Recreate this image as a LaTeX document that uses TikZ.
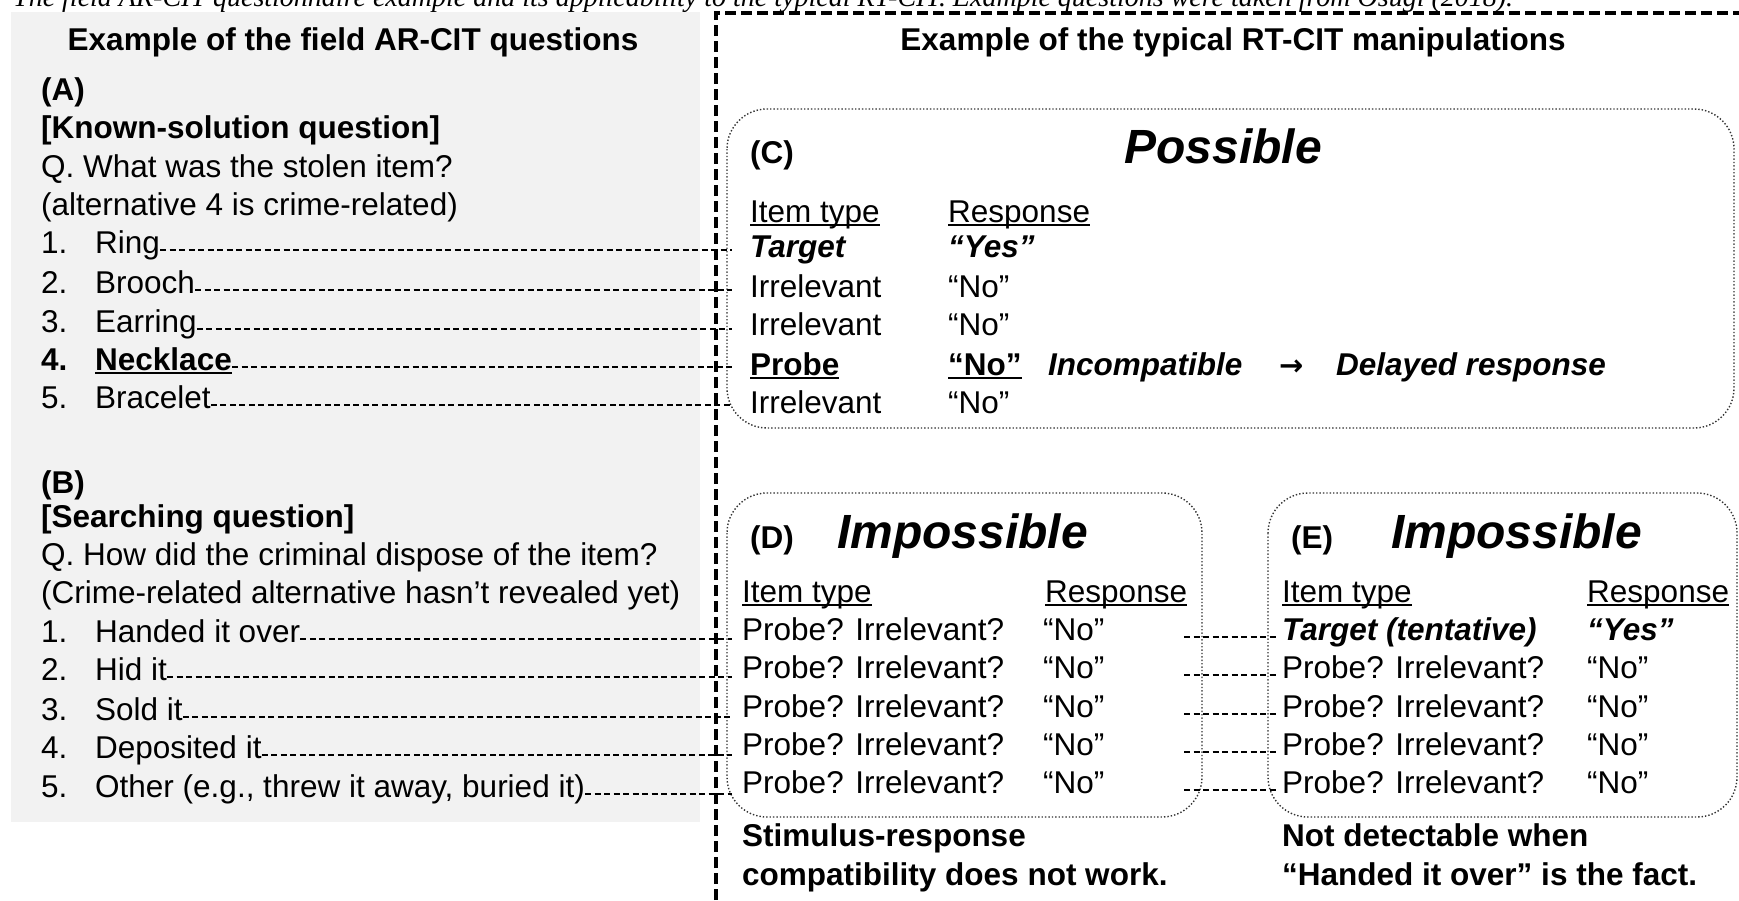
\documentclass[tikz,border=0pt]{standalone}
\usepackage{fontspec}
\setmainfont{Liberation Sans}
\newfontfamily\capfont{Liberation Serif}
\newfontfamily\symfont{DejaVu Sans}
\usetikzlibrary{positioning}

\definecolor{panelgray}{HTML}{F2F2F2}

% underline that sits just under the baseline
\newcommand{\uln}[1]{\setbox0=\hbox{#1}\rlap{\rule[-4pt]{\wd0}{1.8pt}}\box0}

\tikzset{
  txt/.style={anchor=base west, inner sep=0pt, font=\fontsize{31.5}{36}\selectfont},
  hdr/.style={txt, font=\fontsize{31.5}{36}\selectfont\bfseries},
  bit/.style={txt, font=\fontsize{31.5}{36}\selectfont\bfseries\itshape},
  big/.style={anchor=base west, inner sep=0pt, font=\fontsize{48}{52}\selectfont\bfseries\itshape},
  link/.style={dash pattern=on 6pt off 3.5pt, line width=2pt},
  frame/.style={dash pattern=on 11pt off 5pt, line width=4pt},
  casebox/.style={draw=black!80, dotted, line width=1.4pt, rounded corners=40pt},
}

\begin{document}
\begin{tikzpicture}[x=1pt, y=-1pt]
    \useasboundingbox (0,0) rectangle (1739,900);

    % left panel: field questions
    \fill[panelgray] (11,12) rectangle (700,822);
    \node[anchor=base west, inner sep=0pt, font=\capfont\itshape\fontsize{28}{30}\selectfont] (cap) at (13,6)
        {The field AR-CIT questionnaire example and its applicability to the typical RT-CIT. Example questions were taken from Osugi (2018).};

    \node[hdr, anchor=base] (lhead) at (353,50) {Example of the field AR-CIT questions};
    \node[hdr] (labA) at (41,100) {(A)};
    \node[hdr] (qA) at (41,138) {[Known-solution question]};
    \node[txt] (qA1) at (41,177) {Q. What was the stolen item?};
    \node[txt] (qA2) at (41,215) {(alternative 4 is crime-related)};
    \foreach \i/\t/\y in {1/Ring/253, 2/Brooch/293, 3/Earring/332, 5/Bracelet/408} {
        \node[txt] (a\i) at (41,\y) {\makebox[54pt][l]{\i.}\t};
    }
    \node[hdr] (a4) at (41,370) {\makebox[54pt][l]{4.}\uln{Necklace}};

    \node[hdr] (labB) at (41,493) {(B)};
    \node[hdr] (qB) at (41,527) {[Searching question]};
    \node[txt] (qB1) at (41,565) {Q. How did the criminal dispose of the item?};
    \node[txt] (qB2) at (41,603) {(Crime-related alternative hasn’t revealed yet)};
    \foreach \i/\t/\y in {1/Handed it over/642, 2/Hid it/680, 3/Sold it/720, 4/Deposited it/758,
                          5/{Other (e.g., threw it away, buried it)}/797} {
        \node[txt] (b\i) at (41,\y) {\makebox[54pt][l]{\i.}\t};
    }

    % right panel: RT-CIT manipulations
    \draw[frame] (716,900) -- (716,13) -- (1739,13);
    \node[hdr, anchor=base] (rhead) at (1233,50) {Example of the typical RT-CIT manipulations};

    % (C)
    \draw[casebox] (727,109) rectangle (1734,428);
    \node[hdr] (labC) at (750,163) {(C)};
    \node[big, anchor=base] (possible) at (1223,163) {Possible};
    \node[txt] (cType) at (750,222) {\uln{Item type}};
    \node[txt] (cResp) at (948,222) {\uln{Response}};
    \node[bit] (c1) at (750,257) {Target};
    \node[bit] (cr1) at (948,257) {“Yes”};
    \foreach \i/\y in {2/297, 3/335, 5/413} {
        \node[txt] (c\i) at (750,\y) {Irrelevant};
        \node[txt] (cr\i) at (948,\y) {“No”};
    }
    \node[hdr] (c4) at (750,375) {\uln{Probe}};
    \node[hdr] (cr4) at (948,375) {\uln{“No”}};
    \node[bit] (incomp) at (1048,375) {Incompatible};
    \node[anchor=base west, inner sep=0pt, font=\symfont\bfseries\fontsize{29}{32}\selectfont] (arr) at (1279,375) {→};
    \node[bit] (delay) at (1336,375) {Delayed response};

    % (D)
    \draw[casebox] (727,493) rectangle (1202,817);
    \node[hdr] (labD) at (750,548) {(D)};
    \node[big] (impD) at (837,548) {Impossible};
    \node[txt] (dType) at (742,602) {\uln{Item type}};
    \node[txt] (dResp) at (1045,602) {\uln{Response}};
    \foreach \i/\y in {1/640, 2/678, 3/717, 4/755, 5/793} {
        \node[txt] (d\i) at (742,\y) {Probe? Irrelevant?};
        \node[txt] (dr\i) at (1043,\y) {“No”};
    }

    % (E)
    \draw[casebox] (1268,493) rectangle (1737,817);
    \node[hdr] (labE) at (1291,548) {(E)};
    \node[big] (impE) at (1391,548) {Impossible};
    \node[txt] (eType) at (1282,602) {\uln{Item type}};
    \node[txt] (eResp) at (1587,602) {\uln{Response}};
    \node[bit] (e1) at (1282,640) {Target (tentative)};
    \node[bit] (er1) at (1587,640) {“Yes”};
    \foreach \i/\y in {2/678, 3/717, 4/755, 5/793} {
        \node[txt] (e\i) at (1282,\y) {Probe? Irrelevant?};
        \node[txt] (er\i) at (1587,\y) {“No”};
    }

    \node[hdr] (noteD1) at (742,846) {Stimulus-response};
    \node[hdr] (noteD2) at (742,885) {compatibility does not work.};
    \node[hdr] (noteE1) at (1282,846) {Not detectable when};
    \node[hdr] (noteE2) at (1282,885) {“Handed it over” is the fact.};

    % connectors
    \coordinate (endL) at (732,0);
    \coordinate (startDE) at (1184,0);
    \foreach \i in {1,...,5} {
        \draw[link] (a\i.mid east) -- (a\i.mid east -| endL);
        \draw[link] (b\i.mid east) -- (b\i.mid east -| endL);
        \draw[link] (startDE |- e\i.mid west) -- ([xshift=-5pt]e\i.mid west);
    }
\end{tikzpicture}
\end{document}
